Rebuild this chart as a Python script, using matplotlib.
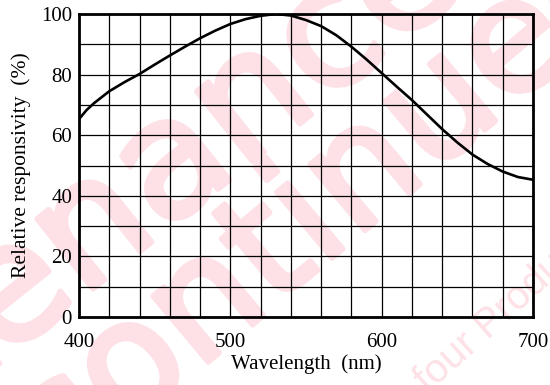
import matplotlib
matplotlib.use("Agg")
import matplotlib.pyplot as plt
import matplotlib.patheffects as pe

wavelength = [400, 405, 410, 420, 430, 440, 450, 460, 470, 480, 490, 500, 510, 520, 530,
              540, 550, 560, 570, 580, 590, 600, 610, 620, 630, 640, 650, 660, 670, 680, 690, 700]
responsivity = [65.3, 68.3, 70.6, 74.5, 77.5, 80.2, 83.3, 86.3, 89.2, 92.0, 94.5, 96.7, 98.3, 99.4, 100.0,
                99.5, 98.0, 96.0, 93.0, 89.2, 85.0, 80.5, 76.0, 71.6, 66.8, 62.0, 57.6, 53.6, 50.5, 48.0, 46.2, 45.3]
x_ticks = [400, 500, 600, 700]
y_ticks = [0, 20, 40, 60, 80, 100]
x_label = "Wavelength  (nm)"
y_label = "Relative responsivity  (%)"

W, H = 550, 385
fig = plt.figure(figsize=(5.5, 3.85), dpi=100)
fig.patch.set_facecolor("white")

pink = "#fde1e6"
def px(x, y):
    return x / W, 1 - y / H

thick = [pe.withStroke(linewidth=4, foreground=pink)]
wm = dict(color=pink, rotation_mode="anchor", zorder=0)
fig.text(*px(59, 316), "Maintenance", fontsize=118, rotation=38.6, family="DejaVu Sans",
         ha="center", va="baseline", path_effects=thick, **wm)
fig.text(*px(263, 316), "Discontinued", fontsize=113, rotation=40, family="DejaVu Sans",
         ha="center", va="baseline", path_effects=thick, **wm)
fig.text(*px(428, 394), "four Product", fontsize=29, rotation=42, family="Liberation Sans",
         ha="left", va="baseline", **wm)

ax = fig.add_axes([79 / W, 1 - 317 / H, (533 - 79) / W, (317 - 14) / H])
ax.set_zorder(2)
ax.set_facecolor("none")
ax.set_xlim(400, 700)
ax.set_ylim(0, 100)
ax.set_xticks(range(400, 701, 20), minor=True)
ax.set_yticks(range(0, 101, 10), minor=True)
ax.set_xticks(x_ticks)
ax.set_yticks(y_ticks)
ax.grid(True, which="both", color="black", linewidth=0.9)
ax.tick_params(which="both", length=0)
ax.tick_params(axis="x", pad=11.5)
ax.tick_params(axis="y", pad=5)
for s in ax.spines.values():
    s.set_linewidth(2.0)
ax.plot(wavelength, responsivity, color="black", linewidth=1.9, zorder=3)

serif = "Liberation Serif"
for lbl in ax.get_xticklabels() + ax.get_yticklabels():
    lbl.set_family(serif)
    lbl.set_fontsize(15)
ax.set_xlabel(x_label, family=serif, fontsize=15, labelpad=1.5)
ax.set_ylabel(y_label, family=serif, fontsize=15.5, labelpad=7.5)

fig.savefig("out.png", dpi=100)
